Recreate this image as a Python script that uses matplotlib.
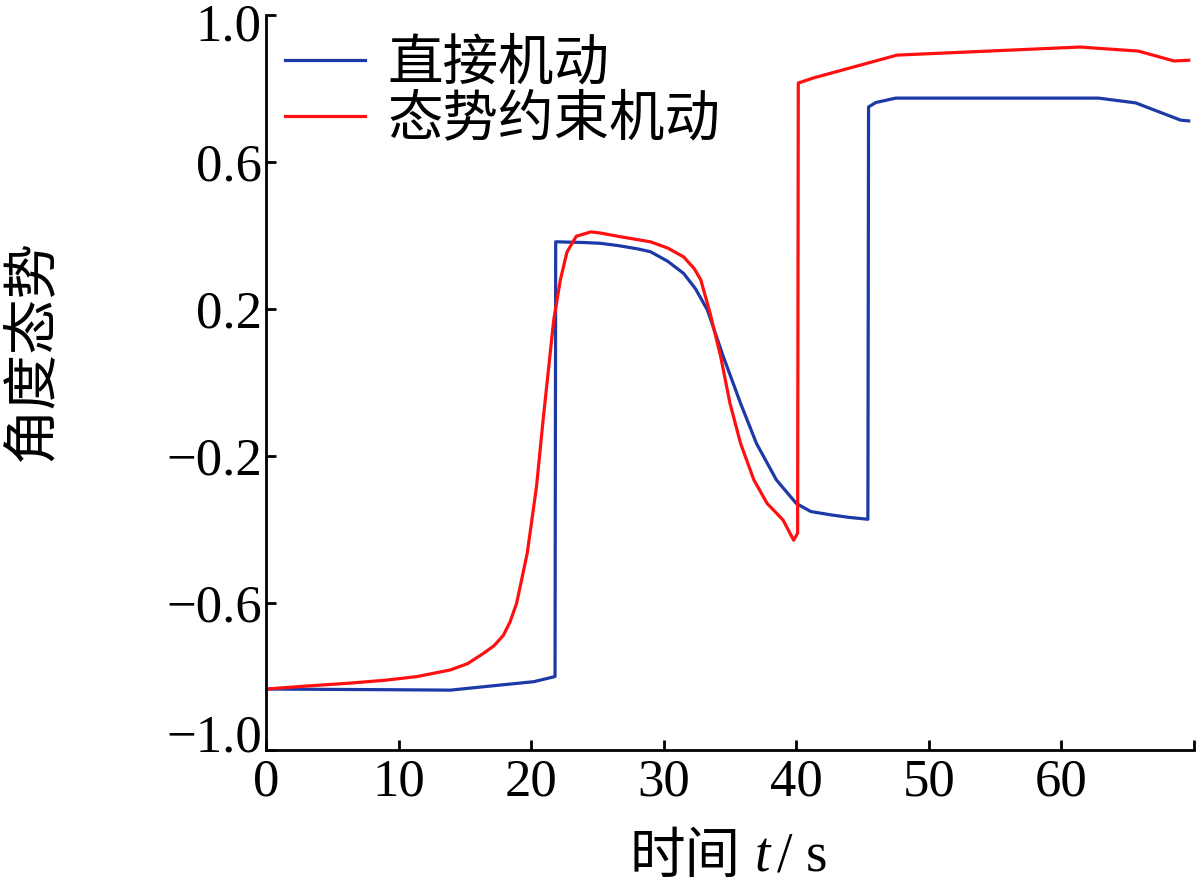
import matplotlib
matplotlib.use('Agg')
import matplotlib.pyplot as plt
import matplotlib.transforms as mtransforms

plt.rcParams['font.family'] = ['Liberation Serif', 'Noto Sans CJK SC']
plt.rcParams['axes.unicode_minus'] = True

# 直接机动
t_direct = [0, 5, 10, 13.9, 17.7, 20.2, 21.8, 21.85, 24, 25.2, 26.5, 28, 29,
            30.3, 31.5, 32.4, 33.3, 34.5, 35.8, 37, 38.5, 40, 41.1, 42.6,
            44, 45.4, 45.45, 46, 47.5, 55, 62.8, 65.6, 69, 69.6]
y_direct = [-0.834, -0.835, -0.836, -0.837, -0.823, -0.814, -0.80, 0.383,
            0.381, 0.379, 0.373, 0.364, 0.356, 0.33, 0.297, 0.255, 0.197,
            0.07, -0.057, -0.166, -0.265, -0.329, -0.351, -0.36, -0.367,
            -0.372, 0.75, 0.762, 0.774, 0.774, 0.774, 0.761, 0.714, 0.712]

# 态势约束机动
t_posture = [0, 3, 6.3, 9, 11.4, 13.9, 15.2, 16.4, 17.2, 17.9, 18.4, 18.9,
             19.7, 20.4, 20.9, 21.3, 21.7, 22.2, 22.7, 23.4, 24.5, 25.2,
             26.7, 29, 30.3, 31.5, 32.3, 32.8, 33.5, 34.3, 35, 35.8, 36.8,
             37.8, 39, 39.8, 40.1, 40.15, 41.3, 47.6, 61.4, 65.8, 68.5, 69.6]
y_posture = [-0.834, -0.826, -0.818, -0.81, -0.80, -0.782, -0.765, -0.737,
             -0.716, -0.688, -0.652, -0.601, -0.465, -0.284, -0.102, 0.034,
             0.17, 0.279, 0.355, 0.398, 0.41, 0.407, 0.397, 0.383, 0.366,
             0.342, 0.31, 0.279, 0.188, 0.07, -0.057, -0.166, -0.265,
             -0.329, -0.374, -0.429, -0.41, 0.815, 0.829, 0.891, 0.913,
             0.902, 0.875, 0.877]

x_ticks = [0, 10, 20, 30, 40, 50, 60, 70]
x_ticklabels = ['0', '10', '20', '30', '40', '50', '60', '']
y_ticks = [-1.0, -0.6, -0.2, 0.2, 0.6, 1.0]
y_ticklabels = ['\u22121.0', '\u22120.6', '\u22120.2', '0.2', '0.6', '1.0']

fig = plt.figure(figsize=(12, 8.91), dpi=100)
ax = fig.add_axes([0.2217, 0.1582, 0.7733, 0.8249])

ax.plot(t_direct, y_direct, color='#1c3aa6', lw=2.3, label='直接机动')
ax.plot(t_posture, y_posture, color='#ff1010', lw=2.3, label='态势约束机动')

ax.set_xlim(0, 70)
ax.set_ylim(-1, 1)
ax.set_xticks(x_ticks)
ax.set_xticklabels(x_ticklabels)
ax.set_yticks(y_ticks)
ax.set_yticklabels(y_ticklabels)

for s in ['top', 'right']:
    ax.spines[s].set_visible(False)
for s in ['left', 'bottom']:
    ax.spines[s].set_linewidth(2.0)
ax.tick_params(direction='in', length=7, width=2.0, labelsize=38)
ax.tick_params(axis='x', pad=6)
ax.tick_params(axis='y', pad=3)

# end labels sit a little off their ticks in the original
ylabs = ax.get_yticklabels()
ylabs[0].set_transform(ylabs[0].get_transform() +
                       mtransforms.ScaledTranslation(0, 12 / 72, fig.dpi_scale_trans))
ylabs[-1].set_transform(ylabs[-1].get_transform() +
                        mtransforms.ScaledTranslation(0, -5 / 72, fig.dpi_scale_trans))

leg = ax.legend(loc='upper left', bbox_to_anchor=(0.02, 0.967), frameon=False,
                fontsize=40, handlelength=1.45, handletextpad=0.4,
                labelspacing=0.07, borderpad=0, borderaxespad=0)

fig.text(740 / 1200, 0.038, '时间', fontsize=40, ha='right', va='center',
         family='Noto Sans CJK SC')
fig.text(755 / 1200, 0.038, 't', fontsize=40, ha='left', va='center',
         family='Liberation Serif', style='italic')
fig.text(777 / 1200, 0.038, '/', fontsize=40, ha='left', va='center',
         family='Liberation Serif')
fig.text(806 / 1200, 0.038, 's', fontsize=40, ha='left', va='center',
         family='Liberation Serif')
fig.text(0.027, 0.607, '角度态势', fontsize=40, ha='center', va='center',
         rotation=90, family='Noto Sans CJK SC')

fig.savefig('out.png', dpi=100)
